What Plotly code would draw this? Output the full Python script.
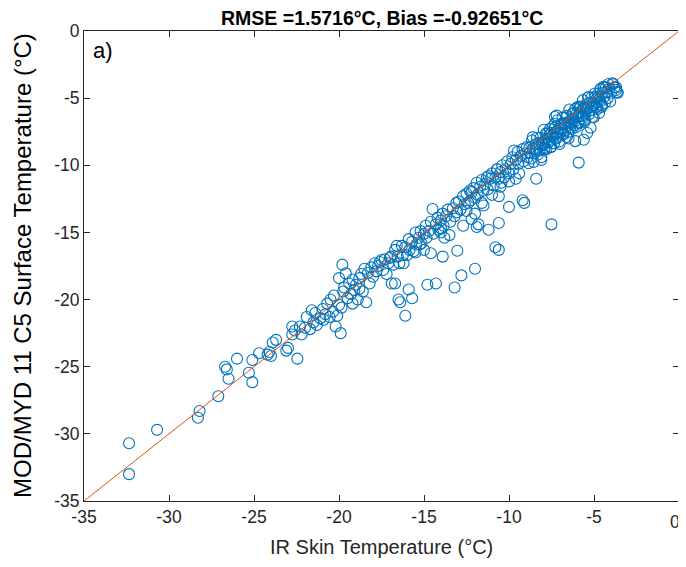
import plotly.graph_objects as go

# Region A: x < -22
ir_a = [-32.35, -32.35, -30.7, -28.2, -28.3, -27.1, -26.5, -26.7, -26.6, -26.0,
        -25.3, -25.1, -25.1, -24.7, -24.1, -24.0, -23.9, -23.7, -23.1, -23.0,
        -22.75, -22.45, -22.6, -24.2, -22.3]
mod_a = [-33.0, -30.7, -29.7, -28.3, -28.8, -27.2, -25.9, -25.0, -25.2, -24.4,
         -25.45, -26.15, -24.5, -24.0, -23.9, -24.2, -23.2, -23.0, -23.8, -23.6,
         -22.6, -24.4, -22.3, -24.1, -22.0]

# Region B: -22 .. -17
ir_b = [-22.2, -22.0, -21.9, -21.7, -21.5, -21.4, -21.3, -21.1, -20.95, -20.8,
        -20.7, -20.55, -20.5, -20.35, -20.3, -20.2, -20.1, -20.0, -19.9, -19.85,
        -19.8, -19.75, -19.7, -19.6, -19.5, -20.0, -19.4, -19.3, -19.2, -19.1,
        -19.0, -18.9, -18.8, -18.7, -18.6, -18.5, -18.4, -18.3, -18.2, -18.1,
        -18.0, -17.9, -17.8, -17.7, -17.6, -17.5, -17.4, -17.3, -17.2, -17.1,
        -17.0, -18.8, -19.2, -20.9, -22.75, -21.6]
mod_b = [-22.6, -22.1, -21.3, -22.2, -21.7, -21.0, -21.9, -21.4, -20.7, -21.1,
         -20.3, -21.3, -20.0, -20.9, -19.7, -22.0, -21.2, -20.4, -22.5, -20.6,
         -17.4, -19.4, -19.1, -18.05, -19.9, -18.4, -18.8, -19.6, -18.5, -19.3,
         -18.9, -20.0, -18.4, -18.1, -19.4, -17.7, -20.2, -18.0, -18.8, -17.6,
         -18.3, -17.3, -17.9, -17.5, -17.2, -17.05, -17.8, -17.0, -18.1, -17.3,
         -16.9, -19.2, -20.3, -21.5, -22.0, -20.8]

# Region C: -17 .. -13
ir_c = [-16.95, -16.8, -16.7, -16.55, -16.45, -16.3, -16.25, -16.1, -16.0, -15.9,
        -15.85, -15.7, -15.6, -15.5, -15.45, -15.3, -15.2, -15.15, -15.0, -14.9,
        -14.85, -14.7, -14.6, -14.5, -14.45, -14.3, -14.2, -14.15, -14.0, -13.9,
        -13.85, -13.7, -13.6, -13.5, -13.45, -13.3, -13.2, -13.1, -13.05, -16.6,
        -15.25, -14.0,
        -16.7, -16.9, -15.9, -15.7, -16.5, -16.4, -16.1, -14.6, -14.8, -14.3,
        -13.9, -13.04, -13.2, -12.8, -13.8, -14.0, -15.0, -16.2, -15.5]
mod_c = [-16.8, -17.4, -16.3, -16.8, -17.3, -16.0, -16.7, -16.1, -16.7, -15.5,
         -16.3, -15.7, -16.4, -15.0, -15.9, -15.4, -14.9, -15.8, -15.1, -14.5,
         -15.4, -14.9, -14.2, -13.26, -15.1, -14.4, -13.9, -14.8, -14.1, -13.6,
         -14.5, -13.8, -13.3, -15.2, -14.2, -13.2, -13.8, -12.8, -13.5, -16.0,
         -15.9, -14.7,
         -18.8, -18.8, -19.25, -19.9, -20.0, -20.2, -21.2, -16.55, -18.9, -18.8,
         -16.8, -16.36, -19.1, -18.2, -15.4, -15.0, -16.3, -17.3, -16.5]

# Region D: -13 .. -9
ir_d = [-12.95, -12.85, -12.7, -12.6, -12.5, -12.4, -12.3, -12.25, -12.1, -12.0,
        -11.9, -11.85, -11.7, -11.6, -11.5, -11.4, -11.3, -11.25, -11.1, -11.0,
        -10.9, -10.8, -10.7, -10.6, -10.5, -10.4, -10.3, -10.2, -10.1, -10.0,
        -9.9, -9.8, -9.75, -9.6, -9.5, -9.45, -9.3, -9.2, -9.15, -9.0,
        -11.2, -10.45, -9.7, -12.2,
        -12.5, -12.0, -11.6, -11.0, -10.5, -10.0, -12.2, -11.9, -11.8, -11.2,
        -10.6, -10.8, -10.6, -12.0, -10.0, -9.2, -9.1, -10.6, -9.6, -9.4,
        -11.5, -12.7, -10.7]
mod_d = [-12.7, -13.3, -12.3, -12.9, -12.1, -12.8, -11.9, -12.6, -11.7, -12.4,
         -11.3, -12.2, -11.6, -11.1, -11.9, -11.4, -10.9, -11.8, -11.0, -10.6,
         -11.5, -10.9, -10.3, -11.0, -10.5, -10.0, -10.9, -10.3, -9.7, -10.6,
         -9.9, -9.4, -10.3, -9.6, -9.0, -9.9, -9.3, -8.8, -9.7, -9.1,
         -10.8, -11.3, -8.9, -12.0,
         -13.4, -13.6, -12.8, -12.2, -11.6, -11.2, -14.0, -14.6, -14.4, -14.8,
         -14.3, -16.1, -16.3, -17.7, -13.1, -12.6, -12.8, -12.3, -11.0, -10.6,
         -13.0, -14.5, -10.3]

# Region E: -9 .. -3.5 (dense cluster)
ir_e = [-8.95, -8.90, -8.85, -8.80, -8.75, -8.70, -8.65, -8.60, -8.55, -8.50,
        -8.45, -8.40, -8.35, -8.30, -8.25, -8.20, -8.15, -8.10, -8.05, -8.00,
        -7.95, -7.90, -7.85, -7.80, -7.75, -7.70, -7.65, -7.60, -7.55, -7.50,
        -7.45, -7.40, -7.35, -7.30, -7.25, -7.20, -7.15, -7.10, -7.05, -7.00,
        -6.95, -6.90, -6.85, -6.80, -6.75, -6.70, -6.65, -6.60, -6.55, -6.50,
        -6.45, -6.40, -6.35, -6.30, -6.25, -6.20, -6.15, -6.10, -6.05, -6.00,
        -5.95, -5.90, -5.85, -5.80, -5.75, -5.70, -5.65, -5.60, -5.55, -5.50,
        -5.45, -5.40, -5.35, -5.30, -5.25, -5.20, -5.15, -5.10, -5.05, -5.00,
        -4.95, -4.90, -4.85, -4.80, -4.75, -4.70, -4.65, -4.60, -4.55, -4.50,
        -4.45, -4.40, -4.35, -4.30, -4.25, -4.20, -4.15, -4.10, -4.05, -4.00,
        -3.90, -3.80, -3.70, -3.60, -3.65,
        -8.02, -7.92, -7.82, -7.72, -7.62, -7.52, -7.42, -7.32, -7.22, -7.12,
        -7.02, -6.92, -6.82, -6.72, -6.62, -6.52, -6.42, -6.32, -6.22, -6.12,
        -6.02, -5.92, -5.82, -5.72, -5.62, -5.52, -5.42, -5.32, -5.22, -5.12,
        -5.02, -4.92, -4.82, -4.72, -4.62, -4.52,
        -8.4, -7.5, -5.9, -5.6, -6.1, -5.4, -7.2, -7.3, -8.1, -6.5,
        -5.2, -4.7, -3.9, -4.4, -3.7, -8.6]
mod_e = [-8.65, -9.40, -9.85, -8.70, -9.05, -9.50, -8.15, -8.80, -9.75, -9.10,
         -8.45, -8.80, -7.95, -9.20, -8.35, -8.90, -7.95, -9.40, -8.35, -8.50,
         -7.35, -8.70, -8.05, -8.80, -7.65, -8.10, -8.25, -7.30, -8.65, -7.60,
         -7.15, -7.90, -8.35, -7.20, -7.55, -8.00, -6.65, -7.30, -8.25, -7.60,
         -6.95, -7.30, -6.45, -7.70, -6.85, -7.40, -6.45, -7.90, -6.85, -7.00,
         -5.85, -7.20, -6.55, -7.30, -6.15, -6.60, -6.75, -5.80, -7.15, -6.10,
         -5.65, -6.40, -6.85, -5.70, -6.05, -6.50, -5.15, -5.80, -6.75, -6.10,
         -5.45, -5.80, -4.95, -6.20, -5.35, -5.90, -4.95, -6.40, -5.35, -5.50,
         -4.65, -5.70, -5.05, -5.80, -4.65, -5.10, -5.25, -4.30, -5.65, -4.60,
         -4.15, -4.90, -5.35, -4.20, -4.55, -5.00, -3.95, -4.30, -5.25, -4.60,
         -3.90, -4.20, -4.40, -4.60, -4.55,
         -8.42, -8.82, -7.62, -8.32, -7.72, -8.62, -7.72, -6.92, -7.92, -7.62,
         -8.42, -6.92, -7.62, -6.92, -6.32, -7.52, -6.82, -6.92, -6.12, -7.02,
         -6.42, -6.82, -5.62, -6.32, -5.72, -6.62, -5.72, -4.92, -5.92, -5.62,
         -6.42, -4.92, -5.62, -4.92, -4.32, -5.52,
         -11.0, -14.4, -9.8, -8.1, -8.2, -7.6, -6.3, -6.4, -9.6, -8.0,
         -7.2, -6.1, -3.96, -4.2, -4.2, -7.9]

ir_temp = ir_a + ir_b + ir_c + ir_d + ir_e
mod_temp = mod_a + mod_b + mod_c + mod_d + mod_e

line_x = [-35, 0]
line_y = [-35, 0]

x_ticks = [-35, -30, -25, -20, -15, -10, -5, 0]
y_ticks = [-35, -30, -25, -20, -15, -10, -5, 0]

title_text = "RMSE =1.5716°C, Bias =-0.92651°C"
x_title = "IR Skin Temperature (°C)"
y_title = "MOD/MYD 11 C5 Surface Temperature (°C)"
panel_label = "a)"

FONT = "Liberation Sans, Arial, sans-serif"
AX = "#262626"

# the page body adds an 8 px margin all round; the figure is sized so the
# page does not overflow the window (no scrollbars)
W, H = 678, 551
ML, MR, MT, MB = 76, 7, 23, 58
PW, PH = W - ML - MR, H - MT - MB
PB = H - MB  # plot bottom in figure px

# the last x tick label sits at the window edge; draw it as a right-anchored
# label so it stays fully visible
x_ticktext = [str(v) for v in x_ticks]
x_last_label = x_ticktext[-1]
x_ticktext[-1] = ""

fig = go.Figure()
fig.add_trace(go.Scatter(
    x=ir_temp, y=mod_temp, mode="markers",
    marker=dict(symbol="circle-open", size=11, color="#0072BD",
                line=dict(width=1.1, color="#0072BD")),
    showlegend=False, hoverinfo="skip"))
fig.add_trace(go.Scatter(
    x=line_x, y=line_y, mode="lines",
    line=dict(color="#D95319", width=1),
    showlegend=False, hoverinfo="skip"))

axis_common = dict(
    showgrid=False, zeroline=False, showline=True, linecolor=AX, linewidth=1,
    mirror="ticks", ticks="inside", ticklen=6, tickwidth=1, tickcolor=AX,
    tickfont=dict(family=FONT, size=17.5, color=AX), automargin=False,
)

fig.update_layout(
    width=W, height=H,
    margin=dict(l=ML, r=MR, t=MT, b=MB),
    paper_bgcolor="white", plot_bgcolor="white",
    xaxis=dict(range=[-35, 0], tickvals=x_ticks,
               ticktext=x_ticktext, ticklabeloverflow="allow",
               **axis_common),
    yaxis=dict(range=[-35, 0], tickvals=y_ticks,
               ticktext=[str(v) for v in y_ticks], ticklabeloverflow="allow",
               **axis_common),
    annotations=[
        dict(text="<b>" + title_text + "</b>", x=0.5, y=1 + (MT - 9.5) / PH,
             xref="paper", yref="paper", xanchor="center", yanchor="middle",
             showarrow=False, font=dict(family=FONT, size=19.5, color="black")),
        dict(text=x_title, x=0.5, y=-(539 - PB) / PH,
             xref="paper", yref="paper", xanchor="center", yanchor="middle",
             showarrow=False, font=dict(family=FONT, size=20, color=AX)),
        dict(text=y_title, x=(14 - ML) / PW, y=0.5, textangle=-90,
             xref="paper", yref="paper", xanchor="center", yanchor="middle",
             showarrow=False, font=dict(family=FONT, size=24, color="black")),
        dict(text=panel_label, x=(83 - ML) / PW, y=1 - 20 / PH,
             xref="paper", yref="paper", xanchor="left", yanchor="middle",
             showarrow=False, font=dict(family=FONT, size=22, color="black")),
        dict(text=x_last_label, x=(673 - ML) / PW, y=-(513.5 - PB) / PH,
             xref="paper", yref="paper", xanchor="right", yanchor="middle",
             showarrow=False, borderpad=0,
             font=dict(family=FONT, size=17.5, color=AX)),
    ],
)

fig.write_html("out.html")
